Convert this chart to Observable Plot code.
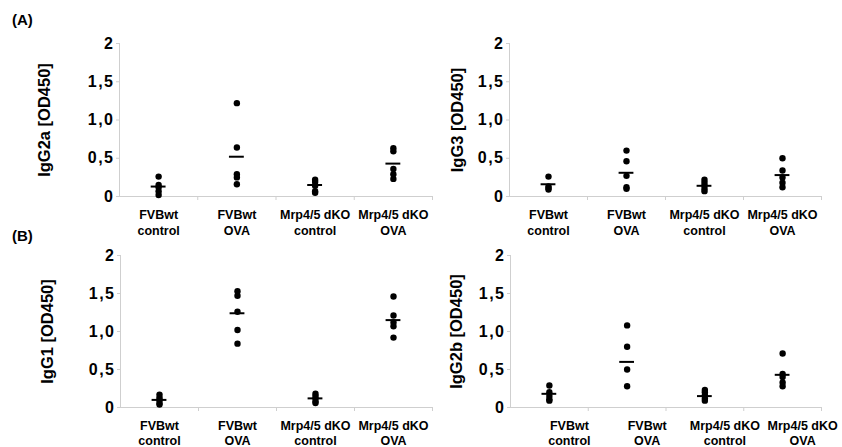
<!DOCTYPE html>
<html><head><meta charset="utf-8">
<script src="https://cdn.jsdelivr.net/npm/d3@7"></script>
<script src="https://cdn.jsdelivr.net/npm/@observablehq/plot@0.6"></script>
<style>
html,body{margin:0;padding:0;background:#fff;}
#root{position:relative;width:842px;height:447px;font-family:"Liberation Sans",Arial,sans-serif;overflow:hidden;}
.panel{position:absolute;}
.tag{position:absolute;font-weight:bold;font-size:15px;color:#000;}
svg g[aria-label="y-axis tick label"] text{letter-spacing:1.5px;}
</style></head><body>
<div id="root">
  <div class="tag" style="left:12px;top:11px">(A)</div>
  <div class="tag" style="left:12px;top:227px">(B)</div>
</div>
<script>
const categories = ["FVBwt\ncontrol", "FVBwt\nOVA", "Mrp4/5 dKO\ncontrol", "Mrp4/5 dKO\nOVA"];
const yTicks = [0, 0.5, 1, 1.5, 2];
const yTickLabels = ["0", "0,5", "1,0", "1,5", "2"];

// IgG2a
const igg2aValues = [[0.26, 0.15, 0.12, 0.07, 0.02], [1.22, 0.64, 0.29, 0.25, 0.16], [0.22, 0.19, 0.14, 0.07, 0.05], [0.63, 0.59, 0.36, 0.29, 0.23]];
const igg2aMeans = [0.13, 0.52, 0.15, 0.43];
// IgG3
const igg3Values = [[0.26, 0.13, 0.11, 0.09], [0.60, 0.46, 0.27, 0.12, 0.10], [0.22, 0.18, 0.14, 0.10, 0.07], [0.50, 0.34, 0.25, 0.18, 0.12]];
const igg3Means = [0.16, 0.31, 0.14, 0.28];
// IgG1
const igg1Values = [[0.17, 0.13, 0.10, 0.06, 0.04], [1.53, 1.47, 1.26, 1.02, 0.84], [0.18, 0.15, 0.12, 0.08, 0.06], [1.46, 1.21, 1.12, 1.07, 0.92]];
const igg1Means = [0.10, 1.24, 0.12, 1.15];
// IgG2b
const igg2bValues = [[0.29, 0.20, 0.15, 0.11, 0.09], [1.08, 0.80, 0.50, 0.28], [0.23, 0.20, 0.16, 0.12, 0.09], [0.71, 0.44, 0.40, 0.33, 0.28]];
const igg2bMeans = [0.18, 0.60, 0.15, 0.43];

const gray = "#cfcfcf";
const font = "'Liberation Sans', Arial, sans-serif";

function panel(cfg) {
  const pts = cfg.values.flatMap((vals, i) => vals.map(v => ({i, v})));
  const means = cfg.means.map((m, i) => ({i, m}));
  const plot = Plot.plot({
    width: cfg.width, height: cfg.height,
    marginLeft: cfg.mL, marginRight: cfg.mR, marginTop: cfg.mT, marginBottom: cfg.mB,
    x: {domain: [0, 4], axis: null},
    y: {domain: [0, 2], axis: null},
    style: {background: "none", overflow: "visible", fontFamily: font, color: "#000"},
    marks: [
      Plot.ruleY([0], {stroke: gray, strokeWidth: 1}),
      Plot.ruleX([0], {stroke: gray, strokeWidth: 1}),
      Plot.axisX([1, 2, 3, 4], {tickSize: 4, tickFormat: () => "", stroke: gray}),
      Plot.axisY(yTicks, {tickSize: 3, tickPadding: 2, tickFormat: d => yTickLabels[yTicks.indexOf(d)], fontSize: 16, fontWeight: "bold", stroke: gray, fill: "#000"}),
      Plot.text(categories, {x: (d, i) => i + 0.5, y: 0, text: d => d, lineAnchor: "top", dy: cfg.catDy, dx: cfg.catDx, fontSize: 12.5, fontWeight: "bold", lineHeight: cfg.lineHeight, fill: "#000"}),
      Plot.text([cfg.label], {frameAnchor: "left", textAnchor: "middle", lineAnchor: "middle", rotate: -90, dx: cfg.titleDx, fontSize: 16.5, fontWeight: "bold", fill: "#000"}),
      Plot.dot(pts, {x: d => d.i + 0.5, y: "v", r: 3.2, fill: "#000", stroke: "none"}),
      Plot.ruleY(means, {y: "m", x1: d => d.i + 0.5 - 0.095, x2: d => d.i + 0.5 + 0.095, stroke: "#000", strokeWidth: 2})
    ]
  });
  const wrap = document.createElement("div");
  wrap.className = "panel";
  wrap.style.left = cfg.left + "px";
  wrap.style.top = cfg.top + "px";
  wrap.appendChild(plot);
  document.getElementById("root").appendChild(wrap);
}

panel({left: 0, top: 0, width: 436, height: 240, mL: 119, mR: 4, mT: 43, mB: 44, label: "IgG2a [OD450]", titleDx: -75, values: igg2aValues, means: igg2aMeans, catDy: 11, catDx: 0, lineHeight: 1.3});
panel({left: 436, top: 0, width: 406, height: 240, mL: 73, mR: 21, mT: 43, mB: 44, label: "IgG3 [OD450]", titleDx: -52, values: igg3Values, means: igg3Means, catDy: 11, catDx: 0, lineHeight: 1.3});
panel({left: 0, top: 220, width: 436, height: 227, mL: 120, mR: 4, mT: 35, mB: 40, label: "IgG1 [OD450]", titleDx: -73, values: igg1Values, means: igg1Means, catDy: 12, catDx: 0, lineHeight: 1.2});
panel({left: 436, top: 220, width: 406, height: 227, mL: 74, mR: 21, mT: 35, mB: 40, label: "IgG2b [OD450]", titleDx: -54, values: igg2bValues, means: igg2bMeans, catDy: 12, catDx: 20, lineHeight: 1.2});
</script>
</body></html>
